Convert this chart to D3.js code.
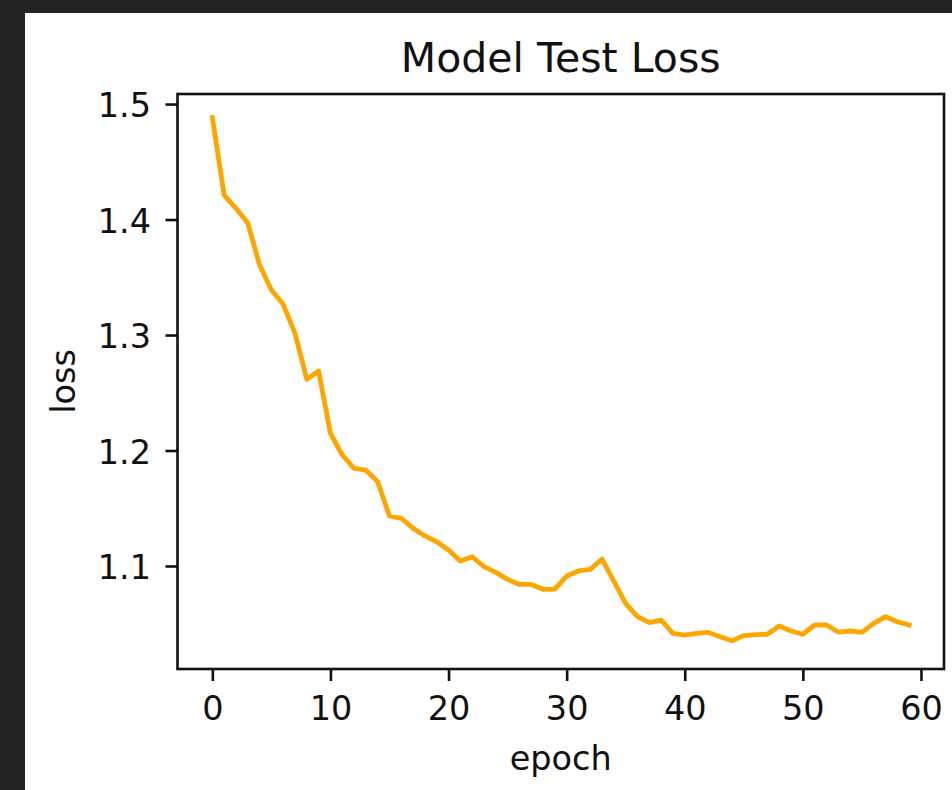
<!DOCTYPE html>
<html>
<head>
<meta charset="utf-8">
<script src="https://cdn.jsdelivr.net/npm/d3@7"></script>
<style>
  html, body { margin: 0; padding: 0; background: #222222; }
  svg { display: block; }
  text { font-family: "DejaVu Sans", sans-serif; fill: #111; }
</style>
</head>
<body>
<script>
// ---- data ----
const epochs = d3.range(0, 60);
const testLoss = [
  1.4883, 1.4212, 1.4097, 1.3970, 1.3606, 1.3390, 1.3266, 1.3015, 1.2616, 1.2688,
  1.2149, 1.1961, 1.1846, 1.1831, 1.1730, 1.1433, 1.1413, 1.1326, 1.1260, 1.1210,
  1.1139, 1.1043, 1.1080, 1.0994, 1.0945, 1.0884, 1.0840, 1.0840, 1.0798, 1.0800,
  1.0913, 1.0957, 1.0971, 1.1060, 1.0866, 1.0674, 1.0562, 1.0509, 1.0532, 1.0416,
  1.0402, 1.0416, 1.0425, 1.0387, 1.0353, 1.0397, 1.0405, 1.0409, 1.0481, 1.0437,
  1.0409, 1.0489, 1.0489, 1.0428, 1.0437, 1.0425, 1.0503, 1.0561, 1.0517, 1.0489
];
const xTicks = [0, 10, 20, 30, 40, 50, 60];
const yTicks = [1.1, 1.2, 1.3, 1.4, 1.5];
const titleText = "Model Test Loss";
const xLabel = "epoch";
const yLabel = "loss";

// ---- layout ----
const W = 952, H = 790;
const plot = { left: 177.5, right: 944, top: 94, bottom: 669 };
const tickFont = 33.5, titleFont = 41;

const svg = d3.select("body").append("svg").attr("width", W).attr("height", H);
svg.append("rect").attr("x", 25).attr("y", 13).attr("width", W - 25).attr("height", H - 13).attr("fill", "#ffffff");

const x = d3.scaleLinear().domain([-2.95, 61.95]).range([plot.left, plot.right]);
const y = d3.scaleLinear().domain([1.0108, 1.5087]).range([plot.bottom, plot.top]);

// line
const line = d3.line().x((d, i) => x(epochs[i])).y(d => y(d));
svg.append("path")
  .datum(testLoss)
  .attr("d", line)
  .attr("fill", "none")
  .attr("stroke", "#FFA500")
  .attr("stroke-width", 4.8)
  .attr("stroke-linejoin", "round")
  .attr("stroke-linecap", "square");

// axes
const xAxis = d3.axisBottom(x).tickValues(xTicks).tickFormat(d3.format("d")).tickSize(12).tickSizeOuter(0).tickPadding(13);
const gx = svg.append("g").attr("transform", `translate(0,${plot.bottom})`).call(xAxis);
gx.select(".domain").remove();
gx.selectAll(".tick line").attr("stroke", "#111").attr("stroke-width", 2.6);
gx.selectAll(".tick text")
  .attr("font-size", tickFont).attr("font-family", "DejaVu Sans")
  .attr("fill", "#111").attr("dy", null).attr("y", 51);

const yAxis = d3.axisLeft(y).tickValues(yTicks).tickFormat(d3.format(".1f")).tickSize(12).tickSizeOuter(0).tickPadding(14);
const gy = svg.append("g").attr("transform", `translate(${plot.left},0)`).call(yAxis);
gy.select(".domain").remove();
gy.selectAll(".tick line").attr("stroke", "#111").attr("stroke-width", 2.6);
gy.selectAll(".tick text")
  .attr("font-size", tickFont).attr("font-family", "DejaVu Sans")
  .attr("fill", "#111").attr("dy", null).attr("y", 12.7).attr("x", -26.5);

// frame (spines)
svg.append("rect")
  .attr("x", plot.left).attr("y", plot.top)
  .attr("width", plot.right - plot.left).attr("height", plot.bottom - plot.top)
  .attr("fill", "none").attr("stroke", "#111").attr("stroke-width", 2.6);

// title and labels
const cx = (plot.left + plot.right) / 2;
svg.append("text").attr("x", cx).attr("y", 71.5).attr("text-anchor", "middle")
  .attr("font-size", titleFont).text(titleText);
svg.append("text").attr("x", cx).attr("y", 770).attr("text-anchor", "middle")
  .attr("font-size", tickFont).text(xLabel);
svg.append("text")
  .attr("transform", `translate(75,${(plot.top + plot.bottom) / 2}) rotate(-90)`)
  .attr("text-anchor", "middle").attr("font-size", tickFont).text(yLabel);
</script>
</body>
</html>
